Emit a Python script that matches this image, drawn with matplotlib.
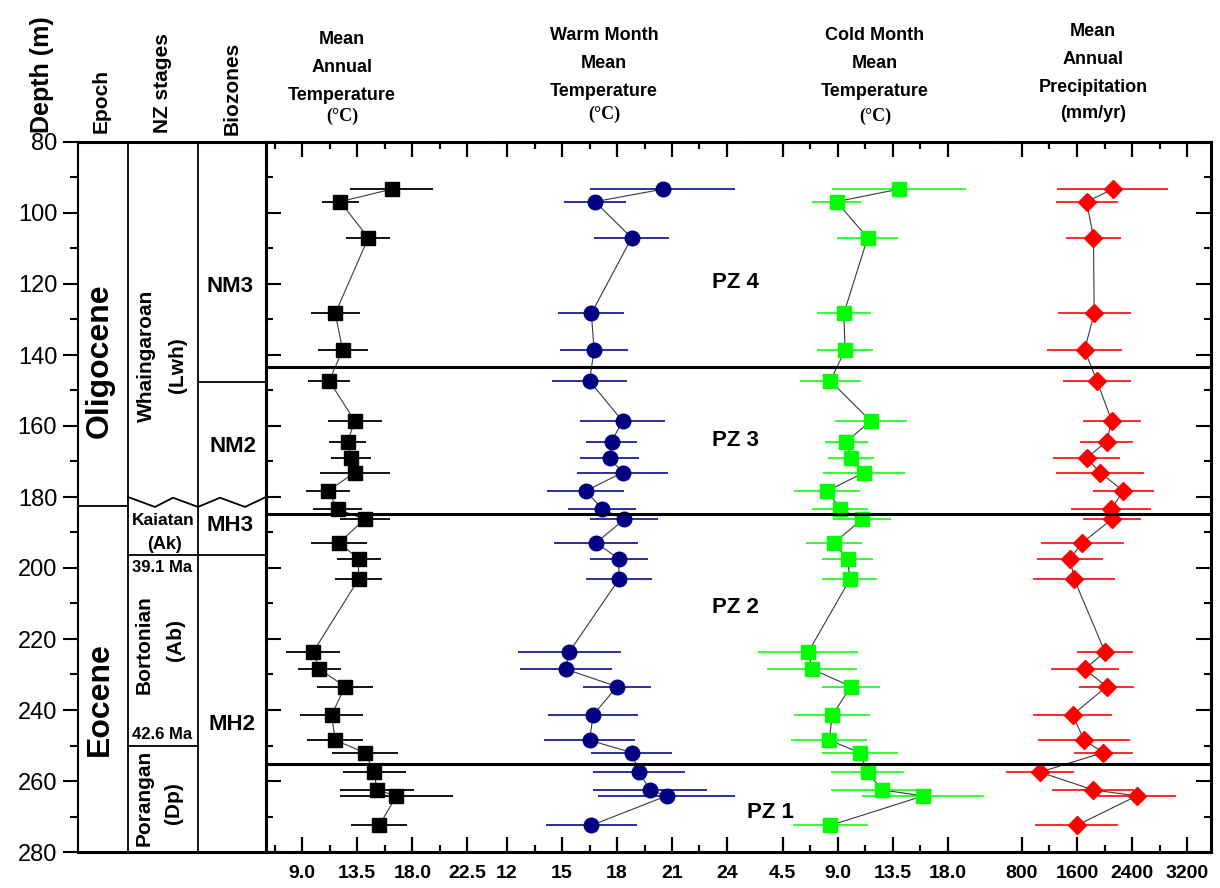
import matplotlib.pyplot as plt
from matplotlib.ticker import MultipleLocator, FixedLocator

plt.rcParams['font.family'] = ['Liberation Sans', 'DejaVu Sans']

# sample depths (m) and reconstructed climate values
depth = [93.3, 96.8, 107.0, 128.3, 138.6, 147.3, 158.6, 164.4, 169.0, 173.1, 178.3, 183.4, 186.3,
         192.9, 197.4, 203.2, 223.6, 228.5, 233.4, 241.4, 248.5, 252.0, 257.5, 262.5, 264.2, 272.5]

mat = [16.3, 12.1, 14.4, 11.7, 12.3, 11.2, 13.3, 12.7, 13.0, 13.3, 11.1, 11.9, 14.1,
       12.0, 13.6, 13.6, 9.9, 10.4, 12.5, 11.4, 11.7, 14.1, 14.9, 15.1, 16.7, 15.3]
mat_err = [3.4, 1.5, 1.8, 2.0, 2.05, 1.7, 2.2, 1.55, 1.65, 2.85, 1.8, 2.0, 2.05,
           2.3, 1.8, 1.9, 2.2, 1.75, 2.3, 2.6, 2.3, 2.7, 2.6, 3.0, 4.65, 2.3]

wmmt = [20.5, 16.8, 18.8, 16.6, 16.75, 16.5, 18.3, 17.7, 17.6, 18.3, 16.3, 17.2, 18.4,
        16.85, 18.1, 18.1, 15.4, 15.2, 18.0, 16.7, 16.5, 18.8, 19.2, 19.8, 20.7, 16.6]
wmmt_err = [3.95, 1.7, 2.05, 1.8, 1.85, 2.05, 2.3, 1.4, 1.6, 2.5, 2.1, 1.85, 1.85,
            2.3, 1.6, 1.8, 2.8, 2.5, 1.85, 2.45, 2.5, 2.2, 2.5, 3.1, 3.75, 2.5]

cmmt = [14.0, 8.9, 11.45, 9.5, 9.6, 8.4, 11.7, 9.7, 10.1, 11.15, 8.15, 9.2, 11.0,
        8.7, 9.8, 10.0, 6.6, 6.9, 10.1, 8.55, 8.3, 10.8, 11.45, 12.6, 16.0, 8.4]
cmmt_err = [5.5, 2.0, 2.5, 2.2, 2.3, 2.5, 2.95, 1.75, 1.9, 3.35, 2.7, 2.3, 2.4,
            2.3, 2.1, 2.25, 4.1, 3.7, 2.4, 3.1, 3.1, 3.1, 3.0, 4.15, 5.0, 3.1]

map_ = [2120, 1740, 1840, 1850, 1710, 1890, 2105, 2030, 1740, 1935, 2275, 2095, 2105,
        1675, 1500, 1560, 2005, 1715, 2030, 1535, 1705, 1985, 1060, 1835, 2470, 1595]
map_err = [810, 450, 400, 530, 550, 500, 420, 380, 490, 640, 440, 575, 420,
           605, 480, 595, 410, 500, 400, 570, 665, 425, 490, 595, 570, 605]

pz_bounds = [143.3, 184.9, 255.3]
pz_labels = ['PZ 4', 'PZ 3', 'PZ 2', 'PZ 1']
pz_label_depth = [119.7, 164.0, 211.0, 269.0]

W, H = 1220, 888
TOP, BOT = 142, 852


def px_box(x0, x1):
    return [x0 / W, 1 - BOT / H, (x1 - x0) / W, (BOT - TOP) / H]


def fig_text(x, y, s, **kw):
    fig.text(x / W, 1 - y / H, s, **kw)


fig = plt.figure(figsize=(12.2, 8.88), dpi=100)

# ---- stratigraphy columns (x in pixels) ----
axL = fig.add_axes(px_box(78, 266))
axL.set_xlim(78, 266)
axL.set_ylim(280, 80)
axL.set_xticks([])
axL.yaxis.set_major_locator(MultipleLocator(20))
axL.yaxis.set_minor_locator(MultipleLocator(10))
axL.tick_params(axis='y', which='major', direction='out', length=11, width=1.5, labelsize=17, pad=4)
axL.tick_params(axis='y', which='minor', direction='out', length=6, width=1.5)
for s in axL.spines.values():
    s.set_linewidth(1.5)
axL.spines['top'].set_linewidth(2.2)
axL.spines['bottom'].set_linewidth(2.2)

lk = dict(color='k', lw=1.3)
axL.axvline(128, **lk)
axL.axvline(198, **lk)
axL.plot([78, 128], [182.5, 182.5], **lk)
axL.plot([128, 155, 173, 198, 220, 245, 266], [180, 182.8, 180.2, 182.8, 180.2, 182.8, 180], **lk)
axL.plot([128, 266], [196.3, 196.3], **lk)
axL.plot([128, 198], [250.1, 250.1], **lk)
axL.plot([198, 266], [147.5, 147.5], **lk)

b = dict(fontweight='bold', ha='center', va='center')
axL.text(100, 141.5, 'Oligocene', rotation=90, fontsize=23, **b)
axL.text(100, 237, 'Eocene', rotation=90, fontsize=23, **b)
axL.text(146, 140.3, 'Whaingaroan', rotation=90, fontsize=15, **b)
axL.text(178, 142.8, '(Lwh)', rotation=90, fontsize=15, **b)
axL.text(163, 186.5, 'Kaiatan', fontsize=12.5, **b)
axL.text(164, 193.5, '(Ak)', fontsize=13, **b)
axL.text(162, 199.8, '39.1 Ma', fontsize=12, **b)
axL.text(144, 221.7, 'Bortonian', rotation=90, fontsize=15, **b)
axL.text(175, 220.3, '(Ab)', rotation=90, fontsize=15, **b)
axL.text(162, 247.0, '42.6 Ma', fontsize=12, **b)
axL.text(144, 264.8, 'Porangan', rotation=90, fontsize=15, **b)
axL.text(174, 266.2, '(Dp)', rotation=90, fontsize=15, **b)
axL.text(230, 120.8, 'NM3', fontsize=16, **b)
axL.text(233, 165.9, 'NM2', fontsize=16, **b)
axL.text(230, 187.9, 'MH3', fontsize=16, **b)
axL.text(232, 244.2, 'MH2', fontsize=16, **b)

# ---- data panels ----
panels = [
    dict(x0=266, x1=490, xlim=(6.03, 24.36), vals=mat, err=mat_err, marker='s', ms=10,
         mc='black', ec='black', major=[9, 13.5, 18, 22.5], minor=[6.75, 11.25, 15.75, 20.25],
         labels=['9.0', '13.5', '18.0', '22.5']),
    dict(x0=490, x1=740, xlim=(11.07, 24.71), vals=wmmt, err=wmmt_err, marker='o', ms=10.5,
         mc='#000080', ec='#1c1c96', major=[12, 15, 18, 21, 24], minor=[13.5, 16.5, 19.5, 22.5],
         labels=['12', '15', '18', '21', '24']),
    dict(x0=740, x1=998, xlim=(1.0, 22.12), vals=cmmt, err=cmmt_err, marker='s', ms=10,
         mc='#00ff00', ec='#22ff22', major=[4.5, 9, 13.5, 18], minor=[6.75, 11.25, 15.75],
         labels=['4.5', '9.0', '13.5', '18.0']),
    dict(x0=998, x1=1211, xlim=(451, 3549), vals=map_, err=map_err, marker='D', ms=9.5,
         mc='#ff0000', ec='#ff1a1a', major=[800, 1600, 2400, 3200], minor=[1200, 2000, 2800],
         labels=['800', '1600', '2400', '3200']),
]

axes = []
for i, p in enumerate(panels):
    ax = fig.add_axes(px_box(p['x0'], p['x1']))
    ax.set_xlim(*p['xlim'])
    ax.set_ylim(280, 80)
    ax.errorbar(p['vals'], depth, xerr=p['err'], fmt='none', ecolor=p['ec'],
                elinewidth=1.3, capsize=0, zorder=2)
    ax.plot(p['vals'], depth, '-', color='#3a3a3a', lw=0.8, zorder=3)
    ax.plot(p['vals'], depth, ls='none', marker=p['marker'], ms=p['ms'],
            mfc=p['mc'], mec=p['mc'], zorder=4)
    for yb in pz_bounds:
        ax.axhline(yb, color='k', lw=2.2, zorder=5)

    ax.xaxis.set_major_locator(FixedLocator(p['major']))
    ax.xaxis.set_minor_locator(FixedLocator(p['minor']))
    ax.set_xticklabels(p['labels'], fontweight='bold')
    ax.tick_params(axis='x', which='both', direction='in', top=True, bottom=True,
                   labelsize=14, pad=9, width=1.6)
    ax.tick_params(axis='x', which='major', length=11)
    ax.tick_params(axis='x', which='minor', length=5)

    ax.yaxis.set_major_locator(MultipleLocator(20))
    ax.yaxis.set_minor_locator(MultipleLocator(10))
    ax.tick_params(axis='y', which='both', direction='in', left=(i == 0), right=(i == 3),
                   labelleft=False, labelright=False, width=1.5)
    ax.tick_params(axis='y', which='major', length=11)
    ax.tick_params(axis='y', which='minor', length=5)

    ax.spines['left'].set_visible(i == 0)
    ax.spines['right'].set_visible(i == 3)
    for s in ax.spines.values():
        s.set_linewidth(2.2)
    ax.patch.set_alpha(0)
    axes.append(ax)

# PZ labels sit between the warm and cold month panels (pixel x, depth y)
axL_to_fig = lambda d: TOP + (d - 80) * (BOT - TOP) / 200.0
pz_x = [735, 735, 735, 770]
for lab, d, xp in zip(pz_labels, pz_label_depth, pz_x):
    fig_text(xp, axL_to_fig(d), lab, fontsize=16, **b)

# ---- header texts ----
r = dict(rotation=90, ha='center', va='bottom', fontweight='bold')
fig_text(42, 133, 'Depth (m)', fontsize=18, **r)
fig_text(101, 133, 'Epoch', fontsize=15, **r)
fig_text(163, 133, 'NZ stages', fontsize=15, **r)
fig_text(232, 135, 'Biozones', fontsize=15, **r)

h = dict(ha='center', va='center', fontweight='bold', fontsize=13)
c = dict(ha='center', va='center', fontweight='bold', fontsize=13,
         family=['Liberation Serif', 'DejaVu Serif'])
fig_text(342, 40, 'Mean', **h)
fig_text(342, 68, 'Annual', **h)
fig_text(342, 96, 'Temperature', **h)
fig_text(342, 116, '(°C)', **c)

fig_text(604, 35, 'Warm Month', **h)
fig_text(604, 63, 'Mean', **h)
fig_text(604, 91, 'Temperature', **h)
fig_text(604, 114, '(°C)', **c)

fig_text(875, 35, 'Cold Month', **h)
fig_text(875, 63, 'Mean', **h)
fig_text(875, 91, 'Temperature', **h)
fig_text(875, 116, '(°C)', **c)

fig_text(1093, 32, 'Mean', **h)
fig_text(1093, 60, 'Annual', **h)
fig_text(1093, 87, 'Precipitation', **h)
fig_text(1093, 113, '(mm/yr)', **h)

fig.savefig('out.png', dpi=100)
